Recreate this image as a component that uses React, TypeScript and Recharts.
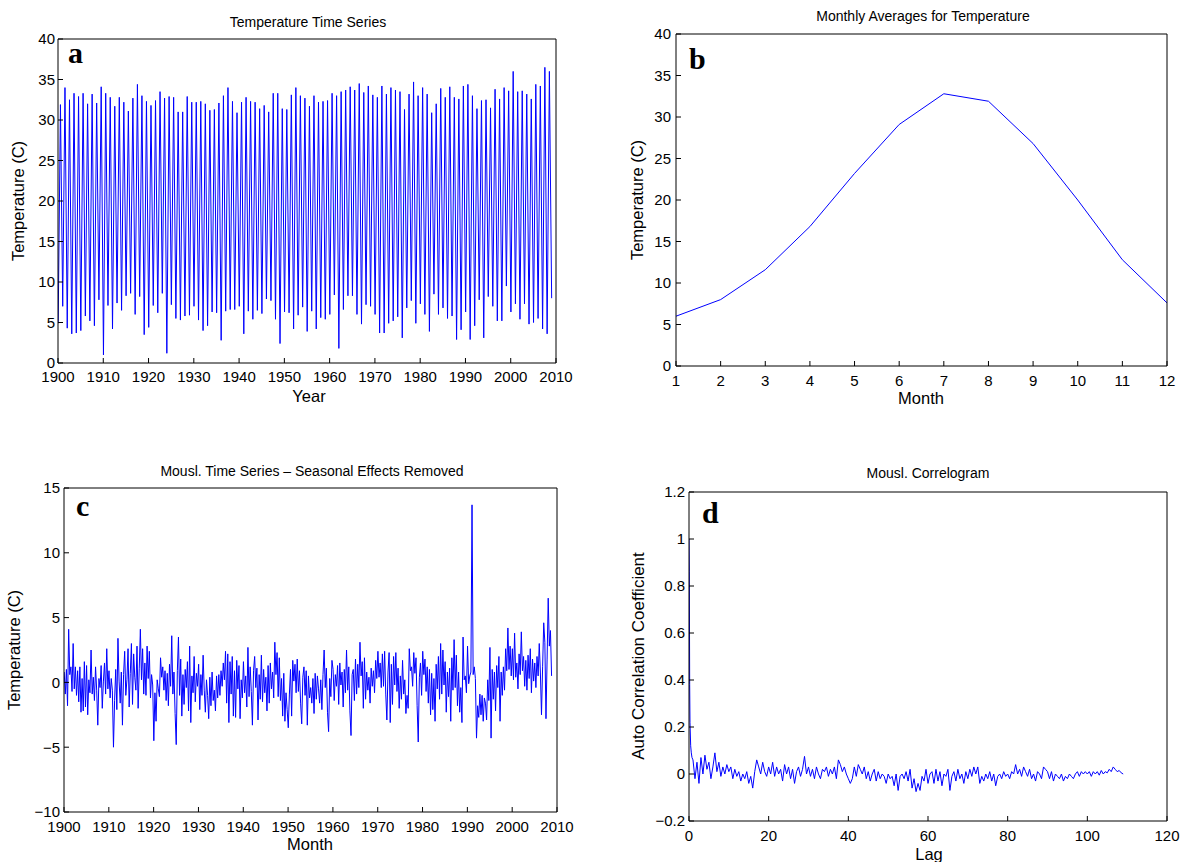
import { LineChart, Line, XAxis, YAxis } from "recharts"

const FONT = "'Liberation Sans', Arial, Helvetica, sans-serif"
const SERIF = "'Liberation Serif', 'Times New Roman', serif"
const BLUE = "#0000ff"

// panel a: summer peak and winter low of each year, 1900..2008 (peaks) / 1900..2009 (lows)
const yearPeaks = [
  31.9, 34.0, 32.5, 33.3, 32.9, 33.3, 32.0, 33.2, 32.1, 34.1,
  33.3, 32.8, 31.7, 32.8, 32.2, 31.1, 32.7, 34.4, 33.0, 32.3,
  31.8, 32.4, 33.5, 32.7, 32.9, 32.8, 31.0, 31.0, 32.9, 32.2,
  32.2, 32.3, 32.0, 31.2, 31.3, 32.1, 33.0, 34.0, 32.3, 30.9,
  32.2, 32.8, 32.3, 32.2, 31.4, 31.8, 31.0, 33.3, 33.3, 31.4,
  31.3, 33.1, 34.0, 33.0, 32.7, 31.7, 33.0, 32.2, 32.3, 32.4,
  33.3, 33.0, 33.5, 33.7, 34.1, 33.7, 34.5, 33.4, 34.2, 33.1,
  32.8, 34.2, 33.2, 34.0, 33.7, 33.5, 31.3, 33.2, 34.7, 33.0,
  34.0, 33.2, 30.9, 32.0, 33.9, 32.8, 34.1, 32.8, 32.6, 34.2,
  34.4, 33.0, 31.4, 32.4, 32.5, 31.5, 33.8, 32.6, 34.0, 33.6,
  36.0, 33.5, 33.6, 33.2, 32.6, 34.4, 34.2, 36.5, 36.0,
]
const yearLows = [
  4.9, 7.0, 4.3, 3.6, 3.7, 4.0, 5.8, 5.2, 4.6, 7.8,
  1.0, 7.1, 4.2, 7.4, 6.5, 8.3, 8.6, 6.0, 8.2, 3.5,
  4.4, 7.1, 6.2, 8.6, 1.2, 7.2, 5.5, 5.3, 5.8, 5.9,
  7.0, 5.3, 4.0, 4.6, 6.3, 6.2, 2.8, 6.4, 6.6, 6.6,
  7.0, 3.6, 6.4, 5.4, 6.5, 6.1, 7.9, 7.7, 5.4, 2.4,
  6.3, 6.2, 4.2, 5.9, 6.9, 3.9, 6.4, 4.2, 5.6, 5.4,
  6.0, 8.4, 1.8, 6.6, 8.3, 8.3, 6.0, 4.8, 7.2, 7.0,
  6.0, 3.7, 3.7, 4.9, 5.2, 5.7, 3.1, 6.8, 7.7, 4.9,
  7.3, 6.0, 3.9, 8.5, 6.0, 6.8, 5.5, 5.8, 2.9, 4.1,
  6.3, 2.9, 4.6, 7.8, 3.1, 8.2, 7.0, 5.2, 5.2, 9.5,
  6.3, 7.3, 5.4, 7.3, 4.8, 5.0, 5.5, 4.2, 3.6, 8.0,
]

// panel b
const months = [1, 2, 3, 4, 5, 6, 7, 8, 9, 10, 11, 12]
const monthlyMeans = [6.0, 8.0, 11.6, 16.8, 23.2, 29.1, 32.8, 31.9, 26.8, 20.0, 12.8, 7.6]

// panel c: anomalies, four readings per year from 1900
const anomalies = [
  0.8, -0.9, 1.0, -1.8, 4.1, 0.6, 1.2, -0.7, 3.0, -0.5, 1.2, -1.0, 0.9, -1.5, 1.2, -2.3, 0.3, -2.2, 1.6, -1.9,
  1.3, -2.5, 0.2, -0.8, 2.5, -0.9, 0.4, -1.4, 1.2, -0.6, -3.3, 0.3, -0.4, 1.3, -2.0, 0.1, 1.5, -0.9, 2.6, -0.5,
  0.9, -1.2, 0.3, -0.6, -5.0, -1.4, 1.0, -2.1, 3.4, 0.1, -1.6, 0.8, -3.3, 0.6, 2.4, -1.0, 0.2, 2.6, -1.9, 0.7,
  3.0, -1.7, 2.2, 0.4, -0.6, 2.8, -2.0, 1.1, 4.1, 0.2, 2.6, -0.9, 1.5, -1.0, 2.8, 0.3, 2.4, -1.2, 0.6, -0.2,
  -4.5, -0.8, -3.0, 0.2, -0.5, -1.1, 1.9, 0.4, 1.2, -0.6, 0.9, -1.4, 0.7, -1.8, 1.4, -0.3, 3.6, -0.9, 0.8, -2.4,
  -4.8, 0.9, 3.5, -1.0, 1.8, -2.6, 0.6, -1.7, 1.0, -0.4, 1.6, -2.2, 2.8, -3.1, 0.5, -0.8, 2.0, -1.5, 0.7, -0.3,
  1.4, -2.1, 0.6, -1.0, 2.1, -0.6, -2.3, 0.2, -1.0, -2.8, 0.4, -1.8, 0.8, -1.4, -0.6, -2.2, 0.5, -1.2, 0.6, -1.0,
  0.9, -0.3, 1.5, 0.2, 2.4, -1.6, 2.2, -3.1, 1.6, -0.9, 2.0, -2.6, 0.9, -2.7, 1.7, -0.5, 1.3, -2.8, 0.2, -1.2,
  1.6, -0.8, 0.5, -1.9, 2.7, -1.1, 1.2, -0.7, -3.3, 0.9, 2.0, -0.4, 1.1, -2.9, 0.6, -1.3, 2.1, -1.5, 1.0, -0.8,
  0.4, -2.2, 1.3, -1.6, 1.5, -0.5, 0.8, -1.2, 3.1, 0.6, 2.3, -1.1, 1.9, -1.4, 0.3, -2.6, 0.7, -3.0, -0.8, -2.1,
  -3.5, -0.9, 1.0, -2.6, 1.7, 0.1, 1.4, -0.8, 1.8, -0.7, 0.9, -1.6, -3.2, 0.4, 1.2, -1.0, 0.9, -3.3, 0.5, -1.2,
  -0.4, -1.6, 0.3, -2.4, 0.7, -1.3, 0.5, -0.5, -1.6, 0.2, -2.1, 0.6, 2.5, -0.4, 1.1, -2.3, -3.8, 0.3, -1.1, 1.7,
  1.0, -1.4, 0.6, -0.3, 1.3, -1.7, 1.5, -0.2, 0.8, -1.9, 1.0, -0.8, 2.5, -0.6, 1.2, -2.2, -4.1, 0.6, 1.0, -1.4,
  1.8, -0.9, 1.4, -0.4, 3.1, 0.5, 1.6, -2.0, 1.9, -1.3, 0.8, -0.6, 0.4, -1.6, 1.1, -0.3, 0.9, -0.8, 1.7, 0.3,
  2.4, 0.4, 1.5, -0.4, 2.2, -0.3, 2.4, -0.9, -2.9, 0.8, 2.3, -3.1, 1.4, -1.7, 2.0, -0.2, 2.3, -0.7, 1.1, -2.0,
  0.5, -1.3, 1.7, -0.9, 0.2, -2.4, -1.0, -2.0, 2.6, 0.9, 1.2, -0.3, 2.3, 0.7, 1.9, -1.8, -4.6, 0.4, 1.5, -1.0,
  2.4, 0.6, 1.8, -0.7, 1.2, -1.6, 1.0, -2.5, 0.7, -2.1, 0.3, -3.0, 1.4, -0.5, 2.0, -1.3, 3.0, -0.9, 2.5, -0.2,
  1.6, -2.3, 0.8, -1.1, 1.1, -3.0, 1.9, -0.6, 3.3, -0.4, 2.1, -1.8, 0.8, -2.3, -0.4, -3.1, 3.5, 0.2, 0.5, -0.8,
  2.8, -0.1, 0.5, 0.8, 13.7, 0.6, 1.2, 0.3, -4.3, -1.8, -2.7, -0.9, -2.5, -1.0, -3.0, -1.2, -1.6, -2.9, 0.2, -1.4,
  2.7, -4.3, 1.0, -1.3, 0.8, -2.2, 1.3, -0.4, 2.0, -3.0, 0.8, -1.0, 1.2, -0.6, 2.6, 0.9, 4.2, 1.0, 2.8, 0.5,
  2.6, 0.2, 3.8, 0.4, 1.5, -0.5, 2.2, 0.6, 3.9, 0.9, 2.0, -0.3, 1.7, -0.6, 2.1, 0.3, 2.6, -0.8, 1.8, 0.1,
  1.5, -0.4, 2.0, 0.5, 3.0, 0.8, -2.5, 1.2, 4.6, 3.1, -2.8, 1.8, 6.5, 2.8, 4.0, 0.5,
]

// panel d: the first lags, then one reading every half lag from lag 1
const headLags = [0, 0.08, 0.17, 0.25, 0.42, 0.58, 0.75]
const headAcf = [1.0, 0.86, 0.38, 0.22, 0.12, 0.09, 0.07]
const acf = [
  0.06, -0.02, 0.05, -0.04, 0.07, 0.0, 0.08, 0.02, 0.05, -0.02, 0.03, 0.09, 0.01, 0.05, -0.01, 0.03, 0.0, 0.04, 0.01, 0.03,
  -0.02, 0.02, -0.01, 0.01, -0.03, 0.0, -0.02, 0.01, -0.04, -0.01, -0.06, 0.01, 0.06, 0.03, 0.0, 0.05, 0.01, -0.01, 0.03, 0.0,
  0.05, -0.01, 0.03, 0.0, 0.02, -0.03, 0.04, 0.0, 0.03, -0.02, 0.02, -0.04, 0.01, 0.03, -0.01, 0.02, 0.075, 0.0, 0.03, -0.01,
  0.02, -0.02, 0.03, 0.0, -0.02, 0.02, 0.01, 0.03, -0.01, 0.02, 0.0, 0.03, -0.02, 0.06, 0.04, 0.01, 0.03, 0.0, -0.02, -0.04,
  -0.02, 0.03, -0.01, 0.04, 0.02, 0.0, 0.03, -0.02, 0.01, -0.03, 0.0, 0.02, -0.03, 0.01, -0.02, 0.0, -0.01, -0.04, 0.0, -0.02,
  -0.01, -0.05, 0.0, -0.07, -0.01, 0.0, -0.02, 0.01, -0.03, 0.02, -0.06, -0.02, -0.075, -0.04, -0.07, -0.01, -0.03, 0.02, -0.04, 0.0,
  0.01, -0.04, 0.02, -0.03, 0.01, -0.05, 0.0, -0.01, 0.02, -0.07, -0.01, 0.01, -0.03, 0.02, -0.02, 0.0, -0.04, 0.01, -0.02, 0.02,
  -0.01, 0.03, 0.0, 0.03, -0.04, -0.01, -0.03, 0.0, -0.02, 0.01, -0.03, 0.0, -0.05, -0.01, 0.0, -0.02, 0.01, -0.01, 0.0, -0.02,
  0.01, 0.0, 0.04, 0.0, 0.02, -0.01, 0.03, 0.01, -0.01, 0.02, -0.02, 0.0, -0.03, 0.01, 0.0, -0.02, 0.03, 0.02, 0.01, -0.02,
  0.01, -0.03, 0.0, -0.01, -0.02, 0.0, -0.03, -0.01, -0.02, 0.0, -0.01, -0.02, 0.0, 0.01, -0.01, 0.01, 0.0, 0.01, 0.0, 0.01,
  -0.01, 0.01, 0.0, 0.01, -0.005, 0.015, 0.0, 0.01, 0.005, 0.02, 0.01, 0.03, 0.02, 0.01, 0.015, 0.005, 0.0,
]

const yearTicks = [1900, 1910, 1920, 1930, 1940, 1950, 1960, 1970, 1980, 1990, 2000, 2010]
const tempTicks = [0, 5, 10, 15, 20, 25, 30, 35, 40]
const anomalyTicks = [-10, -5, 0, 5, 10, 15]
const lagTicks = [0, 20, 40, 60, 80, 100, 120]
const acfTicks = [-0.2, 0, 0.2, 0.4, 0.6, 0.8, 1, 1.2]

type Pt = { x: number; y: number }

const seriesA: Pt[] = []
yearLows.forEach((low, i) => {
  seriesA.push({ x: 1900 + i + 0.04, y: low })
  if (i < yearPeaks.length) seriesA.push({ x: 1900 + i + 0.54, y: yearPeaks[i] })
})
const seriesB: Pt[] = months.map((m, i) => ({ x: m, y: monthlyMeans[i] }))
const seriesC: Pt[] = anomalies.map((v, i) => ({ x: 1900 + i * 0.25 + 0.04, y: v }))
const seriesD: Pt[] = [
  ...headLags.map((l, i) => ({ x: l, y: headAcf[i] })),
  ...acf.map((v, i) => ({ x: 1 + i * 0.5, y: v })),
]

const minus = (v: number) => String(v).replace("-", "\u2212")

interface PanelProps {
  data: Pt[]
  left: number
  top: number
  plotW: number
  plotH: number
  xDomain: [number, number]
  xTicks: number[]
  yDomain: [number, number]
  yTicks: number[]
  xGap: number
  yGap: number
}

// one MATLAB-style boxed panel; left/top/plotW/plotH describe the plot box on the page
function Panel({ data, left, top, plotW, plotH, xDomain, xTicks, yDomain, yTicks, xGap, yGap }: PanelProps) {
  const yw = 56
  const xh = 40
  const mt = 12
  const mr = 22
  const tickStyle = { fill: "#000", fontSize: 15, fontFamily: FONT }
  return (
    <div style={{ position: "absolute", left: left - yw, top: top - mt - 1 }}>
      <LineChart
        width={yw + plotW + 1 + mr}
        height={mt + 1 + plotH + xh}
        data={data}
        margin={{ top: mt, right: mr, left: 0, bottom: 0 }}
      >
        <XAxis
          xAxisId="b"
          dataKey="x"
          type="number"
          domain={xDomain}
          ticks={xTicks}
          allowDataOverflow
          interval={0}
          height={xh}
          tickSize={-5}
          tickMargin={xGap}
          stroke="#000"
          tick={tickStyle}
          tickFormatter={minus}
        />
        <XAxis
          xAxisId="t"
          orientation="top"
          dataKey="x"
          type="number"
          domain={xDomain}
          ticks={xTicks}
          allowDataOverflow
          interval={0}
          height={1}
          tickSize={-5}
          tick={false}
          stroke="#000"
        />
        <YAxis
          yAxisId="l"
          type="number"
          domain={yDomain}
          ticks={yTicks}
          allowDataOverflow
          interval={0}
          width={yw}
          tickSize={-5}
          tickMargin={yGap}
          stroke="#000"
          tick={tickStyle}
          tickFormatter={minus}
        />
        <YAxis
          yAxisId="r"
          orientation="right"
          type="number"
          domain={yDomain}
          ticks={yTicks}
          allowDataOverflow
          interval={0}
          width={1}
          tickSize={-5}
          tick={false}
          stroke="#000"
        />
        <Line
          xAxisId="t"
          yAxisId="r"
          dataKey="y"
          stroke="none"
          dot={false}
          activeDot={false}
          isAnimationActive={false}
        />
        <Line
          xAxisId="b"
          yAxisId="l"
          dataKey="y"
          type="linear"
          stroke={BLUE}
          strokeWidth={1}
          dot={false}
          activeDot={false}
          isAnimationActive={false}
        />
      </LineChart>
    </div>
  )
}

export default function App() {
  return (
    <div style={{ position: "absolute", left: 0, top: 0, width: 1182, height: 862, background: "#fff", overflow: "hidden" }}>
      <Panel data={seriesA} left={58} top={39} plotW={498} plotH={324} xDomain={[1900, 2010]} xTicks={yearTicks}
        yDomain={[0, 40]} yTicks={tempTicks} xGap={13} yGap={8} />
      <Panel data={seriesB} left={676} top={34} plotW={491} plotH={332} xDomain={[1, 12]} xTicks={months}
        yDomain={[0, 40]} yTicks={tempTicks} xGap={14} yGap={10} />
      <Panel data={seriesC} left={64} top={488} plotW={493} plotH={324} xDomain={[1900, 2010]} xTicks={yearTicks}
        yDomain={[-10, 15]} yTicks={anomalyTicks} xGap={14} yGap={9} />
      <Panel data={seriesD} left={689} top={492} plotW={478} plotH={329} xDomain={[0, 120]} xTicks={lagTicks}
        yDomain={[-0.2, 1.2]} yTicks={acfTicks} xGap={14} yGap={9} />

      <svg width={1182} height={862} style={{ position: "absolute", left: 0, top: 0, pointerEvents: "none" }}>
        <g fontFamily={FONT} fill="#000" textAnchor="middle">
          <text x={308} y={27} fontSize={14}>Temperature Time Series</text>
          <text x={923} y={21} fontSize={14}>Monthly Averages for Temperature</text>
          <text x={312} y={476} fontSize={14}>Mousl. Time Series – Seasonal Effects Removed</text>
          <text x={928} y={478} fontSize={14}>Mousl. Correlogram</text>

          <text x={309} y={402} fontSize={16.5}>Year</text>
          <text x={921} y={404} fontSize={16.5}>Month</text>
          <text x={310} y={850} fontSize={16.5}>Month</text>
          <text x={929} y={860} fontSize={16.5}>Lag</text>

          <text transform="translate(24,201) rotate(-90)" fontSize={16.5}>Temperature (C)</text>
          <text transform="translate(643,200) rotate(-90)" fontSize={16.5}>Temperature (C)</text>
          <text transform="translate(20,650) rotate(-90)" fontSize={16.5}>Temperature (C)</text>
          <text transform="translate(644,656) rotate(-90)" fontSize={17}>Auto Correlation Coefficient</text>
        </g>
        <g fontFamily={SERIF} fontWeight="bold" fontSize={30} fill="#000">
          <text x={68} y={63}>a</text>
          <text x={689} y={69}>b</text>
          <text x={76} y={516}>c</text>
          <text x={702} y={523}>d</text>
        </g>
      </svg>
    </div>
  )
}
